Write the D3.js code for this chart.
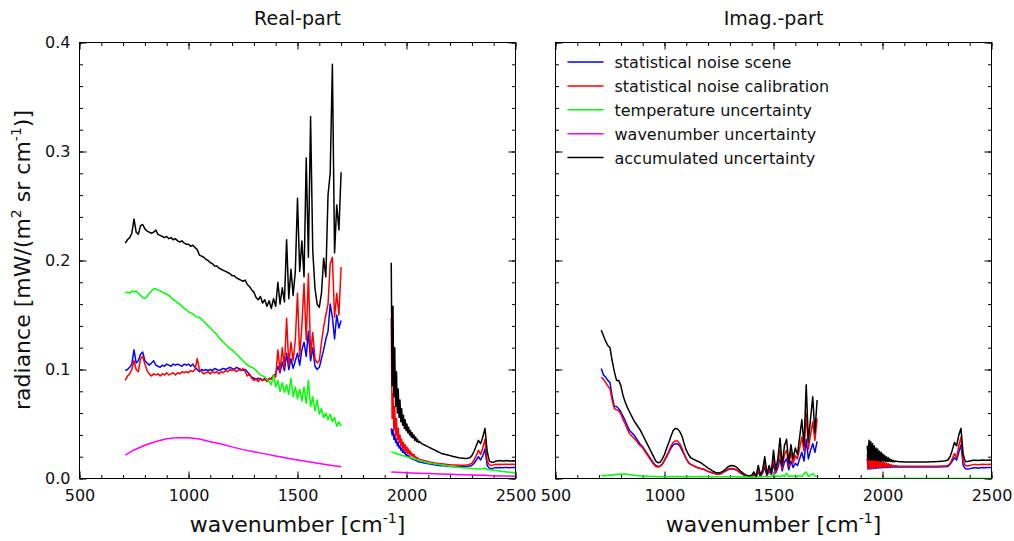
<!DOCTYPE html>
<html>
<head>
<meta charset="utf-8">
<script src="https://cdn.jsdelivr.net/npm/d3@7"></script>
<style>
  html, body { margin: 0; padding: 0; background: #fff; }
  svg { display: block; font-family: "DejaVu Sans", sans-serif; }
</style>
</head>
<body>
<svg id="chart" width="1014" height="541"></svg>
<script>
// ---- wavenumber grids [cm^-1] ----
const waveA = d3.range(710, 1701, 10);                                   // 710 ... 1700
const waveB = d3.range(1930, 2059, 4).concat(d3.range(2070, 2501, 10));  // 1930 ... 2500
const waveSmoothA = [710, 750, 800, 850, 900, 950, 1000, 1050, 1100, 1150, 1200,
                     1250, 1300, 1350, 1400, 1450, 1500, 1550, 1600, 1650, 1700];
const waveSmoothB = [1930, 1960, 2000, 2050, 2100, 2150, 2200, 2250, 2300,
                     2330, 2350, 2360, 2370, 2400, 2450, 2500];

// ---- tick values ----
const xMajorTicks = [500, 1000, 1500, 2000, 2500];
const xMinorTicks = d3.range(500, 2501, 100);
const yMajorTicks = [0.0, 0.1, 0.2, 0.3, 0.4];
const yMinorTicks = d3.range(0, 0.4001, 0.02);

// ---- legend ----
const seriesNames = ["statistical noise scene", "statistical noise calibration",
                     "temperature uncertainty", "wavenumber uncertainty", "accumulated uncertainty"];
const seriesColors = ["#0000ff", "#ff0000", "#00ff00", "#ff00ff", "#000000"];

// ---- real part, band 1 (waveA) ----
const realSceneA = [
  0.099,0.100,0.102,0.105,0.118,0.106,0.108,0.114,0.116,0.108,
  0.106,0.104,0.106,0.108,0.104,0.103,0.102,0.104,0.103,0.105,
  0.104,0.103,0.105,0.104,0.105,0.104,0.103,0.105,0.104,0.105,
  0.103,0.105,0.102,0.100,0.098,0.100,0.099,0.100,0.099,0.100,
  0.099,0.101,0.100,0.099,0.100,0.101,0.100,0.101,0.102,0.101,
  0.100,0.102,0.101,0.100,0.099,0.100,0.098,0.095,0.093,0.092,
  0.091,0.092,0.091,0.090,0.092,0.090,0.091,0.092,0.094,0.096,
  0.103,0.097,0.107,0.099,0.115,0.100,0.110,0.101,0.108,0.115,
  0.104,0.118,0.125,0.112,0.135,0.108,0.120,0.103,0.100,0.102,
  0.110,0.118,0.128,0.135,0.160,0.148,0.128,0.150,0.138,0.145];
const realCalibA = [
  0.090,0.094,0.096,0.100,0.108,0.100,0.098,0.110,0.112,0.105,
  0.099,0.096,0.094,0.096,0.095,0.096,0.094,0.096,0.095,0.097,
  0.095,0.096,0.097,0.095,0.097,0.096,0.098,0.097,0.098,0.097,
  0.099,0.098,0.100,0.110,0.100,0.098,0.096,0.097,0.098,0.096,
  0.098,0.097,0.098,0.096,0.098,0.097,0.099,0.098,0.100,0.099,
  0.100,0.098,0.100,0.099,0.101,0.098,0.094,0.096,0.092,0.090,
  0.091,0.089,0.092,0.090,0.091,0.089,0.092,0.091,0.095,0.093,
  0.118,0.098,0.120,0.102,0.147,0.104,0.125,0.108,0.127,0.170,
  0.112,0.140,0.179,0.127,0.188,0.113,0.134,0.110,0.106,0.108,
  0.125,0.139,0.150,0.160,0.197,0.203,0.148,0.170,0.150,0.194];
const realTempA = [
  0.170,0.171,0.170,0.172,0.171,0.172,0.170,0.168,0.166,0.165,
  0.167,0.170,0.172,0.174,0.174,0.173,0.172,0.171,0.170,0.169,
  0.168,0.166,0.164,0.163,0.161,0.160,0.158,0.156,0.155,0.153,
  0.152,0.151,0.149,0.148,0.148,0.146,0.144,0.142,0.140,0.138,
  0.136,0.134,0.132,0.129,0.127,0.125,0.123,0.121,0.119,0.118,
  0.116,0.114,0.112,0.110,0.108,0.106,0.104,0.103,0.102,0.101,
  0.099,0.097,0.095,0.094,0.093,0.091,0.089,0.086,0.095,0.084,
  0.090,0.080,0.088,0.079,0.086,0.077,0.092,0.075,0.084,0.073,
  0.082,0.071,0.084,0.069,0.090,0.066,0.075,0.062,0.072,0.059,
  0.064,0.056,0.060,0.054,0.059,0.052,0.056,0.048,0.052,0.048];
const realWaveSmoothA = [
  0.0215,0.0262,0.0305,0.0340,0.0364,0.0375,0.0374,0.0362,0.0338,0.0316,0.0290,
  0.0265,0.0245,0.0226,0.0207,0.0188,0.0170,0.0153,0.0137,0.0121,0.0107];
const realTotalA = [
  0.216,0.219,0.221,0.225,0.238,0.226,0.224,0.232,0.233,0.229,
  0.227,0.226,0.225,0.226,0.228,0.224,0.223,0.222,0.221,0.222,
  0.220,0.221,0.219,0.220,0.218,0.217,0.218,0.216,0.215,0.215,
  0.213,0.214,0.212,0.210,0.205,0.204,0.203,0.201,0.200,0.198,
  0.197,0.195,0.195,0.193,0.192,0.191,0.190,0.189,0.188,0.186,
  0.186,0.184,0.183,0.182,0.181,0.182,0.178,0.176,0.173,0.171,
  0.166,0.164,0.167,0.161,0.164,0.158,0.163,0.156,0.165,0.158,
  0.180,0.160,0.175,0.162,0.219,0.165,0.192,0.168,0.190,0.257,
  0.190,0.218,0.185,0.294,0.203,0.332,0.209,0.175,0.160,0.157,
  0.170,0.202,0.185,0.260,0.280,0.380,0.207,0.251,0.228,0.281];

// ---- real part, band 2 (waveB) ----
const realSceneB = [
  0.046,0.040,0.045,0.036,0.040,0.033,0.036,0.030,0.033,0.028,
  0.030,0.026,0.028,0.024,0.026,0.023,0.024,0.021,0.022,0.020,
  0.021,0.019,0.0195,0.018,0.0185,0.0175,0.0175,0.017,0.0168,0.0163,
  0.016,0.0155,0.0152,
  0.0148,0.0143,0.014,0.0136,0.0132,0.0128,0.0125,0.0122,0.012,0.0118,
  0.0116,0.0114,0.0112,0.011,0.0109,0.0108,0.0107,0.0107,0.0107,0.0108,
  0.011,0.0112,0.0115,0.012,0.014,0.017,0.020,0.017,0.021,0.027,
  0.012,0.0095,0.009,0.0095,0.010,0.0098,0.010,0.0098,0.010,0.010,
  0.0098,0.010,0.0102,0.010];
const realCalibB = [
  0.147,0.055,0.078,0.045,0.066,0.040,0.055,0.036,0.046,0.033,
  0.040,0.030,0.036,0.028,0.033,0.026,0.031,0.024,0.029,0.023,
  0.027,0.022,0.025,0.021,0.023,0.020,0.022,0.019,0.020,0.0185,
  0.019,0.018,0.0178,
  0.017,0.0165,0.016,0.0155,0.015,0.0147,0.0143,0.014,0.0137,0.0135,
  0.0133,0.013,0.0128,0.0127,0.0125,0.0124,0.0123,0.0122,0.0122,0.0122,
  0.0123,0.0125,0.013,0.014,0.017,0.021,0.026,0.022,0.028,0.036,
  0.016,0.0125,0.012,0.0125,0.013,0.0128,0.013,0.0128,0.013,0.013,
  0.0128,0.013,0.013,0.0128];
const realTempSmoothB = [
  0.0244,0.0225,0.0200,0.0172,0.0143,0.0128,0.0113,0.0102,0.0092,
  0.0088,0.0090,0.0096,0.0082,0.0076,0.0063,0.0052];
const realWaveSmoothB = [
  0.0060,0.0057,0.0053,0.0049,0.0045,0.0041,0.0038,0.0035,0.0032,
  0.0030,0.0029,0.0029,0.0028,0.0026,0.0023,0.0021];
const realTotalB = [
  0.198,0.085,0.158,0.075,0.120,0.066,0.098,0.060,0.082,0.056,
  0.072,0.052,0.064,0.049,0.058,0.046,0.054,0.044,0.050,0.042,
  0.047,0.040,0.044,0.038,0.042,0.037,0.040,0.035,0.038,0.034,
  0.036,0.033,0.034,
  0.032,0.031,0.030,0.029,0.028,0.027,0.026,0.025,0.024,0.023,
  0.0225,0.022,0.0215,0.021,0.0205,0.020,0.0195,0.019,0.0187,0.0185,
  0.0183,0.0185,0.019,0.021,0.025,0.030,0.035,0.032,0.038,0.046,
  0.025,0.016,0.015,0.015,0.016,0.016,0.0165,0.016,0.016,0.0165,
  0.016,0.016,0.0163,0.016];

// ---- imaginary part, band 1 (waveA) ----
const imagSceneA = [
  0.101,0.095,0.093,0.090,0.088,0.075,0.066,0.066,0.064,0.061,
  0.057,0.053,0.048,0.044,0.042,0.040,0.037,0.034,0.031,0.029,
  0.026,0.023,0.020,0.017,0.014,0.012,0.011,0.0115,0.013,0.0165,
  0.020,0.024,0.028,0.031,0.0318,0.0318,0.030,0.026,0.022,0.018,
  0.0145,0.013,0.012,0.011,0.010,0.0095,0.009,0.0085,0.0075,0.0065,
  0.0058,0.005,0.0045,0.004,0.0038,0.0045,0.0058,0.0068,0.008,0.0088,
  0.0088,0.0085,0.0078,0.0062,0.0048,0.0036,0.0026,0.002,0.0018,0.0018,
  0.003,0.0014,0.006,0.0018,0.005,0.010,0.0025,0.007,0.0035,0.013,
  0.005,0.010,0.018,0.007,0.015,0.018,0.008,0.016,0.010,0.014,
  0.012,0.018,0.024,0.016,0.036,0.018,0.026,0.032,0.024,0.034];
const imagCalibA = [
  0.093,0.091,0.088,0.085,0.082,0.072,0.064,0.063,0.062,0.059,
  0.054,0.050,0.045,0.041,0.039,0.037,0.035,0.032,0.030,0.028,
  0.025,0.022,0.019,0.016,0.013,0.011,0.0105,0.011,0.0135,0.017,
  0.021,0.025,0.030,0.033,0.0345,0.0345,0.032,0.028,0.023,0.018,
  0.0145,0.013,0.012,0.011,0.010,0.0095,0.009,0.0085,0.0075,0.0065,
  0.0058,0.005,0.0045,0.004,0.0038,0.0045,0.0058,0.007,0.0085,0.0092,
  0.0092,0.0088,0.008,0.0065,0.005,0.0038,0.0028,0.0022,0.002,0.002,
  0.004,0.0015,0.008,0.002,0.006,0.014,0.003,0.009,0.004,0.018,
  0.006,0.013,0.026,0.009,0.022,0.026,0.011,0.024,0.014,0.021,
  0.018,0.028,0.038,0.025,0.060,0.027,0.040,0.052,0.035,0.055];
const imagTempA = [
  0.0025,0.0028,0.0026,0.0030,0.0032,0.0030,0.0035,0.0038,0.0040,0.0042,
  0.0040,0.0041,0.0038,0.0036,0.0034,0.0030,0.0028,0.0026,0.0024,0.0022,
  0.0020,0.0022,0.0018,0.0021,0.0017,0.0020,0.0016,0.0019,0.0015,0.0018,
  0.0016,0.0019,0.0015,0.0018,0.0016,0.0020,0.0015,0.0018,0.0014,0.0017,
  0.0015,0.0018,0.0014,0.0017,0.0015,0.0018,0.0014,0.0016,0.0015,0.0018,
  0.0014,0.0017,0.0015,0.0018,0.0014,0.0016,0.0015,0.0017,0.0014,0.0016,
  0.0015,0.0017,0.0014,0.0016,0.0013,0.0016,0.0014,0.0015,0.0013,0.0016,
  0.0014,0.0017,0.0013,0.0018,0.0015,0.0022,0.0014,0.0019,0.0015,0.0040,
  0.0016,0.0025,0.0015,0.0030,0.0018,0.0050,0.0016,0.0024,0.0017,0.0030,
  0.0018,0.0026,0.0017,0.0045,0.0060,0.0020,0.0032,0.0045,0.0022,0.0020];
const imagTotalA = [
  0.136,0.131,0.126,0.122,0.120,0.108,0.098,0.090,0.090,0.085,
  0.076,0.070,0.065,0.061,0.057,0.053,0.050,0.047,0.044,0.040,
  0.036,0.032,0.028,0.024,0.020,0.016,0.0145,0.015,0.018,0.022,
  0.028,0.033,0.039,0.044,0.046,0.0455,0.043,0.039,0.032,0.026,
  0.022,0.019,0.018,0.017,0.016,0.0152,0.014,0.0125,0.011,0.0095,
  0.0085,0.007,0.006,0.0052,0.005,0.0058,0.007,0.0085,0.0105,0.0118,
  0.012,0.0115,0.0105,0.0085,0.0065,0.005,0.0035,0.0028,0.0025,0.003,
  0.006,0.002,0.012,0.003,0.008,0.020,0.004,0.012,0.005,0.026,
  0.008,0.018,0.037,0.012,0.030,0.036,0.014,0.031,0.018,0.028,
  0.022,0.038,0.054,0.030,0.086,0.034,0.055,0.075,0.042,0.072];

// ---- imaginary part, band 2 (waveB) ----
const imagSceneB = [
  0.018,0.0085,0.018,0.0087,0.0175,0.009,0.017,0.009,0.016,0.0092,
  0.0155,0.0094,0.015,0.0096,0.0145,0.0097,0.014,0.0098,0.0135,0.0099,
  0.013,0.010,0.0125,0.010,0.012,0.0101,0.0116,0.0102,0.0112,0.0103,
  0.011,0.0104,0.0107,
  0.0106,0.0105,0.0105,0.0105,0.0105,0.0105,0.0105,0.0105,0.0105,0.0105,
  0.0105,0.0105,0.0105,0.0105,0.0105,0.0105,0.0105,0.0105,0.0105,0.0106,
  0.0107,0.0108,0.0108,0.011,0.013,0.016,0.019,0.017,0.024,0.031,
  0.012,0.009,0.0088,0.009,0.0095,0.0098,0.0098,0.0095,0.0098,0.010,
  0.0098,0.010,0.010,0.0098];
const imagCalibB = [
  0.022,0.0095,0.023,0.0095,0.022,0.0097,0.021,0.0098,0.020,0.010,
  0.019,0.010,0.018,0.0102,0.017,0.0104,0.016,0.0105,0.015,0.0106,
  0.0145,0.0107,0.014,0.0108,0.0135,0.0108,0.013,0.0109,0.0125,0.011,
  0.012,0.011,0.0118,
  0.0115,0.0113,0.0112,0.0112,0.0112,0.0112,0.0112,0.0112,0.0112,0.0112,
  0.0112,0.0112,0.0112,0.0112,0.0112,0.0112,0.0112,0.0112,0.0112,0.0113,
  0.0114,0.0115,0.0115,0.012,0.014,0.018,0.023,0.019,0.030,0.038,
  0.016,0.012,0.0115,0.012,0.0125,0.0128,0.0128,0.0125,0.0128,0.013,
  0.0128,0.0128,0.013,0.0128];
const imagTempSmoothB = [
  0.0002,0.0002,0.0002,0.0002,0.0002,0.0002,0.0002,0.0002,0.0002,
  0.0002,0.0002,0.0002,0.0002,0.0002,0.0002,0.0002];
const imagTotalB = [
  0.030,0.017,0.035,0.017,0.034,0.017,0.032,0.0168,0.030,0.0166,
  0.028,0.0165,0.027,0.0163,0.025,0.016,0.024,0.016,0.0225,0.0158,
  0.021,0.0157,0.020,0.0156,0.019,0.0155,0.018,0.0155,0.0172,0.0154,
  0.0165,0.0153,0.016,
  0.0155,0.0153,0.0153,0.0152,0.0152,0.0152,0.0152,0.0152,0.0152,0.0152,
  0.0152,0.0152,0.0152,0.0152,0.0152,0.0153,0.0153,0.0154,0.0155,0.0156,
  0.0158,0.016,0.0163,0.017,0.020,0.026,0.033,0.030,0.040,0.046,
  0.022,0.0155,0.0155,0.016,0.0165,0.0168,0.0168,0.0165,0.0168,0.017,
  0.0168,0.0168,0.017,0.0168];

// ---- panels ----
const panels = [
  {
    title: "Real-part", left: 79.5, yLabels: true, legend: false,
    series: [
      { wave: waveA, values: realSceneA, color: seriesColors[0] },
      { wave: waveB, values: realSceneB, color: seriesColors[0] },
      { wave: waveA, values: realCalibA, color: seriesColors[1] },
      { wave: waveB, values: realCalibB, color: seriesColors[1] },
      { wave: waveA, values: realTempA, color: seriesColors[2] },
      { wave: waveSmoothB, values: realTempSmoothB, color: seriesColors[2] },
      { wave: waveSmoothA, values: realWaveSmoothA, color: seriesColors[3] },
      { wave: waveSmoothB, values: realWaveSmoothB, color: seriesColors[3] },
      { wave: waveA, values: realTotalA, color: seriesColors[4] },
      { wave: waveB, values: realTotalB, color: seriesColors[4] }
    ]
  },
  {
    title: "Imag.-part", left: 555.5, yLabels: false, legend: true,
    series: [
      { wave: waveA, values: imagSceneA, color: seriesColors[0] },
      { wave: waveB, values: imagSceneB, color: seriesColors[0] },
      { wave: waveA, values: imagCalibA, color: seriesColors[1] },
      { wave: waveB, values: imagCalibB, color: seriesColors[1] },
      { wave: waveA, values: imagTempA, color: seriesColors[2] },
      { wave: waveSmoothB, values: imagTempSmoothB, color: seriesColors[2], opacity: 0.55 },
      { wave: waveA, values: imagTotalA, color: seriesColors[4] },
      { wave: waveB, values: imagTotalB, color: seriesColors[4] }
    ]
  }
];

const plotSize = 436;
const plotTop = 42.5;
const svg = d3.select("#chart");
svg.append("rect").attr("width", 1014).attr("height", 541).attr("fill", "#fff");

const y = d3.scaleLinear().domain([0, 0.4]).range([plotTop + plotSize, plotTop]);

panels.forEach((p, i) => {
  const x = d3.scaleLinear().domain([500, 2500]).range([p.left, p.left + plotSize]);
  const g = svg.append("g");
  const clipId = "clip" + i;

  svg.append("clipPath").attr("id", clipId)
    .append("rect")
    .attr("x", p.left).attr("y", plotTop)
    .attr("width", plotSize).attr("height", plotSize);

  // frame
  g.append("rect")
    .attr("x", p.left).attr("y", plotTop)
    .attr("width", plotSize).attr("height", plotSize)
    .attr("fill", "none").attr("stroke", "#000").attr("stroke-width", 1);

  // ticks, pointing into the plot area
  const tickStyle = sel => {
    sel.select(".domain").remove();
    sel.selectAll(".tick line").attr("stroke", "#000").attr("stroke-width", 1);
    sel.selectAll("text").attr("font-family", "DejaVu Sans").attr("font-size", 16).attr("fill", "#111");
  };
  const bottom = plotTop + plotSize;
  g.append("g").attr("transform", `translate(0,${bottom})`)
    .call(d3.axisBottom(x).tickValues(xMinorTicks).tickSize(-3.5).tickFormat(""))
    .call(tickStyle);
  g.append("g").attr("transform", `translate(0,${bottom})`)
    .call(d3.axisBottom(x).tickValues(xMajorTicks).tickSize(-7).tickPadding(11).tickFormat(d3.format("d")))
    .call(tickStyle);
  g.append("g").attr("transform", `translate(0,${plotTop})`)
    .call(d3.axisTop(x).tickValues(xMinorTicks).tickSize(-3.5).tickFormat(""))
    .call(tickStyle);
  g.append("g").attr("transform", `translate(0,${plotTop})`)
    .call(d3.axisTop(x).tickValues(xMajorTicks).tickSize(-7).tickFormat(""))
    .call(tickStyle);
  g.append("g").attr("transform", `translate(${p.left},0)`)
    .call(d3.axisLeft(y).tickValues(yMinorTicks).tickSize(-3.5).tickFormat(""))
    .call(tickStyle);
  g.append("g").attr("transform", `translate(${p.left},0)`)
    .call(d3.axisLeft(y).tickValues(yMajorTicks).tickSize(-7).tickPadding(9)
      .tickFormat(p.yLabels ? d3.format(".1f") : ""))
    .call(tickStyle);
  g.append("g").attr("transform", `translate(${p.left + plotSize},0)`)
    .call(d3.axisRight(y).tickValues(yMinorTicks).tickSize(-3.5).tickFormat(""))
    .call(tickStyle);
  g.append("g").attr("transform", `translate(${p.left + plotSize},0)`)
    .call(d3.axisRight(y).tickValues(yMajorTicks).tickSize(-7).tickFormat(""))
    .call(tickStyle);

  // spectra
  const line = d3.line().x(d => x(d[0])).y(d => y(d[1]));
  const lines = g.append("g").attr("clip-path", `url(#${clipId})`);
  p.series.forEach(s => {
    lines.append("path")
      .datum(d3.zip(s.wave, s.values))
      .attr("d", line)
      .attr("fill", "none")
      .attr("stroke", s.color)
      .attr("stroke-opacity", s.opacity || 1)
      .attr("stroke-width", 1.5)
      .attr("stroke-linejoin", "round");
  });

  // panel title
  g.append("text")
    .attr("x", p.left + plotSize / 2).attr("y", 25)
    .attr("text-anchor", "middle")
    .attr("font-size", 19).attr("fill", "#111")
    .text(p.title);

  // x axis title
  const xt = g.append("text")
    .attr("x", p.left + plotSize / 2).attr("y", 532)
    .attr("text-anchor", "middle")
    .attr("font-size", 22).attr("fill", "#111");
  xt.append("tspan").text("wavenumber [cm");
  xt.append("tspan").attr("font-size", 14).attr("dy", -9).text("-1");
  xt.append("tspan").attr("dy", 9).text("]");

  // legend
  if (p.legend) {
    const rowY = d3.scalePoint().domain(seriesNames).range([62, 157.5]);
    const lg = g.append("g");
    seriesNames.forEach((name, k) => {
      lg.append("line")
        .attr("x1", p.left + 12).attr("x2", p.left + 48)
        .attr("y1", rowY(name)).attr("y2", rowY(name))
        .attr("stroke", seriesColors[k]).attr("stroke-width", 1.5);
      lg.append("text")
        .attr("x", p.left + 59).attr("y", rowY(name) + 6)
        .attr("font-size", 16).attr("fill", "#111")
        .text(name);
    });
  }
});

// y axis title
const yt = svg.append("text")
  .attr("transform", "translate(30,260) rotate(-90)")
  .attr("text-anchor", "middle")
  .attr("font-size", 22).attr("fill", "#111");
yt.append("tspan").text("radiance [mW/(m");
yt.append("tspan").attr("font-size", 14).attr("dy", -9).text("2");
yt.append("tspan").attr("dy", 9).text(" sr cm");
yt.append("tspan").attr("font-size", 14).attr("dy", -9).text("-1");
yt.append("tspan").attr("dy", 9).text(")]");
</script>
</body>
</html>
